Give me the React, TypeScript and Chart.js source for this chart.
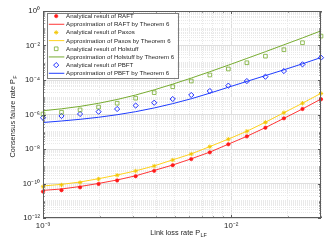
import React, { useEffect, useRef } from 'react';
import { Chart, registerables } from 'chart.js';
import { drawPoint } from 'chart.js/helpers';

Chart.register(...registerables);

// ---------------- data ----------------
const linkLossRate = [0.001, 0.001254, 0.001574, 0.001974, 0.002477, 0.003107, 0.003898, 0.00489, 0.006135, 0.007697, 0.009656, 0.01211, 0.0152, 0.01906, 0.02392, 0.03];

const raftAnalytical = [3.4e-11, 4.1e-11, 6.0e-11, 9.4e-11, 1.5e-10, 2.65e-10, 5.4e-10, 1.15e-9, 2.6e-9, 6.4e-9, 1.87e-8, 5.4e-8, 1.72e-7, 6.0e-7, 2.08e-6, 7.7e-6];
const raftApprox = [4.0e-11, 4.8e-11, 6.7e-11, 1.01e-10, 1.6e-10, 2.8e-10, 5.7e-10, 1.18e-9, 2.7e-9, 6.6e-9, 1.9e-8, 5.45e-8, 1.74e-7, 6.0e-7, 2.1e-6, 7.9e-6];
const paxosAnalytical = [6.5e-11, 8.2e-11, 1.14e-10, 1.82e-10, 3.0e-10, 5.3e-10, 1.03e-9, 2.3e-9, 5.1e-9, 1.36e-8, 3.7e-8, 1.06e-7, 3.5e-7, 1.27e-6, 4.5e-6, 1.65e-5];
const paxosApprox = [7.2e-11, 8.9e-11, 1.22e-10, 1.9e-10, 3.1e-10, 5.4e-10, 1.05e-9, 2.35e-9, 5.2e-9, 1.38e-8, 3.75e-8, 1.07e-7, 3.55e-7, 1.28e-6, 4.5e-6, 1.7e-5];
const holstuffAnalytical = [1.07e-6, 1.35e-6, 1.85e-6, 2.7e-6, 4.5e-6, 8.8e-6, 1.85e-5, 4.1e-5, 8.7e-5, 1.95e-4, 4.35e-4, 1.0e-3, 2.4e-3, 5.7e-3, 1.45e-2, 3.5e-2];
const holstuffApprox = [1.66e-6, 2.14e-6, 2.95e-6, 4.47e-6, 7.41e-6, 1.35e-5, 2.69e-5, 5.75e-5, 1.29e-4, 3.02e-4, 7.24e-4, 1.78e-3, 4.37e-3, 1.1e-2, 2.75e-2, 7.08e-2];
const pbftAnalytical = [6.5e-7, 8.2e-7, 1.07e-6, 1.45e-6, 2.08e-6, 3.3e-6, 4.8e-6, 7.9e-6, 1.35e-5, 2.3e-5, 4.7e-5, 8.7e-5, 1.55e-4, 3.3e-4, 8.1e-4, 1.96e-3];
const pbftApprox = [3.44e-7, 4.2e-7, 5.27e-7, 6.9e-7, 9.7e-7, 1.46e-6, 2.4e-6, 4.27e-6, 8.2e-6, 1.72e-5, 3.8e-5, 8.3e-5, 1.8e-4, 3.9e-4, 8.7e-4, 2.0e-3];

const seriesLabels = [
  'Analytical result of RAFT',
  'Approximation of RAFT by Theorem 6',
  'Analytical result of Paxos',
  'Approximation of Paxos by Theorem 6',
  'Analytical result of Holstuff',
  'Approximation of Holstuff by Theorem 6',
  'Analytical result of PBFT',
  'Approximation of PBFT by Theorem 6',
];

const xLabelTicks = [0.001, 0.01];
const xLabelTexts = ['10⁻³', '10⁻²'];
const yLabelTicks = [1, 1e-2, 1e-4, 1e-6, 1e-8, 1e-10, 1e-12];
const yLabelTexts = ['10⁰', '10⁻²', '10⁻⁴', '10⁻⁶', '10⁻⁸', '10⁻¹⁰', '10⁻¹²'];
const xTitleMain = 'Link loss rate P';
const xTitleSub = 'LF';
const yTitleMain = 'Consensus faiure rate P';
const yTitleSub = 'F';

const X_MIN = 0.001;
const X_MAX = 0.03;
const Y_MIN = 1e-12;
const Y_MAX = 1;

// ---------------- helpers ----------------
const FONT = '"Liberation Sans", Arial, Helvetica, sans-serif';
const TEXT = '#262626';

function logTicks(min: number, max: number) {
  const out: number[] = [];
  const e0 = Math.floor(Math.log10(min) + 1e-9);
  const e1 = Math.ceil(Math.log10(max) - 1e-9);
  for (let e = e0; e <= e1; e++) {
    for (let s = 1; s <= 9; s++) {
      const v = parseFloat((s * Math.pow(10, e)).toPrecision(6));
      if (v >= min * 0.999999 && v <= max * 1.000001) out.push(v);
    }
  }
  return out;
}

function labelIndex(v: number, arr: number[]) {
  return arr.findIndex((t) => Math.abs(v / t - 1) < 1e-6);
}

function pts(ys: number[]) {
  return linkLossRate.map((x, i) => ({ x, y: ys[i] }));
}

function drawSubText(ctx: CanvasRenderingContext2D, main: string, sub: string, cx: number, baseline: number, mainSize: number, subSize: number) {
  ctx.font = `${mainSize}px ${FONT}`;
  const w1 = ctx.measureText(main).width;
  ctx.font = `${subSize}px ${FONT}`;
  const w2 = ctx.measureText(sub).width;
  const total = w1 + w2 + 0.3;
  const start = cx - total / 2;
  ctx.textAlign = 'left';
  ctx.textBaseline = 'alphabetic';
  ctx.font = `${mainSize}px ${FONT}`;
  ctx.fillText(main, start, baseline);
  ctx.font = `${subSize}px ${FONT}`;
  ctx.fillText(sub, start + w1 + 0.3, baseline + 2.1);
}

const framePlugin = {
  id: 'matlabFrame',
  afterDatasetsDraw(chart: any) {
    const { ctx, chartArea: a } = chart;
    // legend box (MATLAB style, inside the axes at top-left)
    const lx = a.left + 3.5;
    const ly = a.top + 1.5;
    const lw = 131;
    const lh = 65;
    ctx.save();
    ctx.fillStyle = '#ffffff';
    ctx.fillRect(lx, ly, lw, lh);
    ctx.strokeStyle = '#7d7d7d';
    ctx.lineWidth = 1;
    ctx.strokeRect(Math.round(lx) + 0.5, Math.round(ly) + 0.5, lw, lh);
    chart.data.datasets.forEach((ds: any, i: number) => {
      const y = ly + 3.6 + i * 8.17;
      if (ds.showLine === false) {
        ctx.save();
        ctx.fillStyle = ds.pointBackgroundColor;
        ctx.strokeStyle = ds.pointBorderColor;
        ctx.lineWidth = ds.pointBorderWidth;
        drawPoint(ctx, { pointStyle: ds.pointStyle, radius: ds.pointRadius, borderWidth: ds.pointBorderWidth, rotation: 0 }, lx + 9.7, y);
        ctx.restore();
      } else {
        ctx.save();
        ctx.strokeStyle = ds.borderColor;
        ctx.lineWidth = ds.borderWidth;
        ctx.beginPath();
        ctx.moveTo(lx + 2.3, y);
        ctx.lineTo(lx + 17.8, y);
        ctx.stroke();
        ctx.restore();
      }
      ctx.fillStyle = TEXT;
      ctx.font = `6.15px ${FONT}`;
      ctx.textAlign = 'left';
      ctx.textBaseline = 'middle';
      ctx.fillText(ds.label, lx + 19.6, y + 0.3);
    });
    ctx.restore();
  },
  afterDraw(chart: any) {
    const { ctx, chartArea: a, scales } = chart;
    ctx.save();
    // inward ticks
    ctx.strokeStyle = '#3a3a3a';
    ctx.lineWidth = 0.8;
    ctx.beginPath();
    logTicks(X_MIN, X_MAX).forEach((v) => {
      const px = Math.round(scales.x.getPixelForValue(v)) + 0.5;
      const len = labelIndex(v, xLabelTicks) >= 0 ? 3 : 1.6;
      ctx.moveTo(px, a.bottom);
      ctx.lineTo(px, a.bottom - len);
      ctx.moveTo(px, a.top);
      ctx.lineTo(px, a.top + len);
    });
    logTicks(Y_MIN, Y_MAX).forEach((v) => {
      const py = Math.round(scales.y.getPixelForValue(v)) + 0.5;
      const len = labelIndex(v, yLabelTicks) >= 0 ? 3 : 1.6;
      ctx.moveTo(a.left, py);
      ctx.lineTo(a.left + len, py);
      ctx.moveTo(a.right, py);
      ctx.lineTo(a.right - len, py);
    });
    ctx.stroke();
    // axes box
    ctx.strokeStyle = '#5c5c5c';
    ctx.lineWidth = 1;
    ctx.strokeRect(Math.round(a.left) + 0.5, Math.round(a.top) + 0.5, Math.round(a.right - a.left) - 1, Math.round(a.bottom - a.top) - 1);
    // axis titles
    ctx.fillStyle = TEXT;
    drawSubText(ctx, xTitleMain, xTitleSub, 178.5, 235.3, 7.3, 5.4);
    ctx.translate(14.6, (a.top + a.bottom) / 2 + 2);
    ctx.rotate(-Math.PI / 2);
    drawSubText(ctx, yTitleMain, yTitleSub, 0, 0, 7.3, 5.4);
    ctx.restore();
  },
};

function gridColor(labelTicks: number[]) {
  return (c: any) => (c.tick && labelIndex(c.tick.value, labelTicks) >= 0 ? '#dedede' : '#e9e9e9');
}
function gridDash(labelTicks: number[]) {
  return (c: any) => (c.tick && labelIndex(c.tick.value, labelTicks) >= 0 ? [] : [1, 1]);
}

export default function App() {
  const ref = useRef<HTMLCanvasElement | null>(null);
  useEffect(() => {
    if (!ref.current) return;
    const datasets: any[] = [
      { label: seriesLabels[0], data: pts(raftAnalytical), showLine: false, pointStyle: 'circle', pointRadius: 1.7, pointBackgroundColor: '#ff1a1a', pointBorderColor: '#ff1a1a', pointBorderWidth: 0.6 },
      { label: seriesLabels[1], data: pts(raftApprox), borderColor: '#ff3636', borderWidth: 1, pointRadius: 0 },
      { label: seriesLabels[2], data: pts(paxosAnalytical), showLine: false, pointStyle: 'star', pointRadius: 2.2, pointBackgroundColor: '#f2c500', pointBorderColor: '#f2c500', pointBorderWidth: 0.9 },
      { label: seriesLabels[3], data: pts(paxosApprox), borderColor: '#ffd21e', borderWidth: 1, pointRadius: 0 },
      { label: seriesLabels[4], data: pts(holstuffAnalytical), showLine: false, pointStyle: 'rect', pointRadius: 2.6, pointBackgroundColor: 'rgba(0,0,0,0)', pointBorderColor: '#77ac30', pointBorderWidth: 0.8 },
      { label: seriesLabels[5], data: pts(holstuffApprox), borderColor: '#77ac30', borderWidth: 1, pointRadius: 0 },
      { label: seriesLabels[6], data: pts(pbftAnalytical), showLine: false, pointStyle: 'rectRot', pointRadius: 2.6, pointBackgroundColor: 'rgba(0,0,0,0)', pointBorderColor: '#1f2fff', pointBorderWidth: 1 },
      { label: seriesLabels[7], data: pts(pbftApprox), borderColor: '#1f3dff', borderWidth: 1, pointRadius: 0 },
    ];
    datasets.forEach((d) => {
      d.clip = 6;
      d.tension = 0;
      if (d.showLine !== false) {
        d.fill = false;
        d.pointHoverRadius = 0;
      }
    });
    const chart = new Chart(ref.current, {
      type: 'line',
      data: { datasets },
      options: {
        animation: false,
        responsive: false,
        devicePixelRatio: 1,
        events: [],
        layout: { padding: { left: 0, right: 6, top: 11, bottom: 0 } },
        plugins: { legend: { display: false }, tooltip: { enabled: false }, title: { display: false } },
        scales: {
          x: {
            type: 'logarithmic',
            min: X_MIN,
            max: X_MAX,
            afterBuildTicks: (s: any) => {
              s.ticks = logTicks(X_MIN, X_MAX).map((v) => ({ value: v }));
            },
            afterFit: (s: any) => {
              s.height = 27;
            },
            ticks: {
              autoSkip: false,
              maxRotation: 0,
              minRotation: 0,
              padding: 3.5,
              color: TEXT,
              font: { family: FONT, size: 7.8 },
              callback: (v: any) => {
                const i = labelIndex(Number(v), xLabelTicks);
                return i >= 0 ? xLabelTexts[i] : '';
              },
            },
            grid: { drawTicks: false, color: gridColor(xLabelTicks), lineWidth: 1 },
            border: { display: false, dash: gridDash(xLabelTicks) },
          },
          y: {
            type: 'logarithmic',
            min: Y_MIN,
            max: Y_MAX,
            afterBuildTicks: (s: any) => {
              s.ticks = logTicks(Y_MIN, Y_MAX).map((v) => ({ value: v }));
            },
            afterFit: (s: any) => {
              s.width = 43;
            },
            ticks: {
              autoSkip: false,
              padding: 3,
              color: TEXT,
              font: { family: FONT, size: 7.8 },
              callback: (v: any) => {
                const i = labelIndex(Number(v), yLabelTicks);
                return i >= 0 ? yLabelTexts[i] : '';
              },
            },
            grid: { drawTicks: false, color: gridColor(yLabelTicks), lineWidth: 1 },
            border: { display: false, dash: gridDash(yLabelTicks) },
          },
        },
      },
      plugins: [framePlugin],
    } as any);
    return () => chart.destroy();
  }, []);
  return (
    <div style={{ position: 'fixed', left: 0, top: 0, width: 327, height: 245, background: '#fff' }}>
      <canvas ref={ref} width={327} height={245} style={{ display: 'block', width: 327, height: 245 }} />
    </div>
  );
}
